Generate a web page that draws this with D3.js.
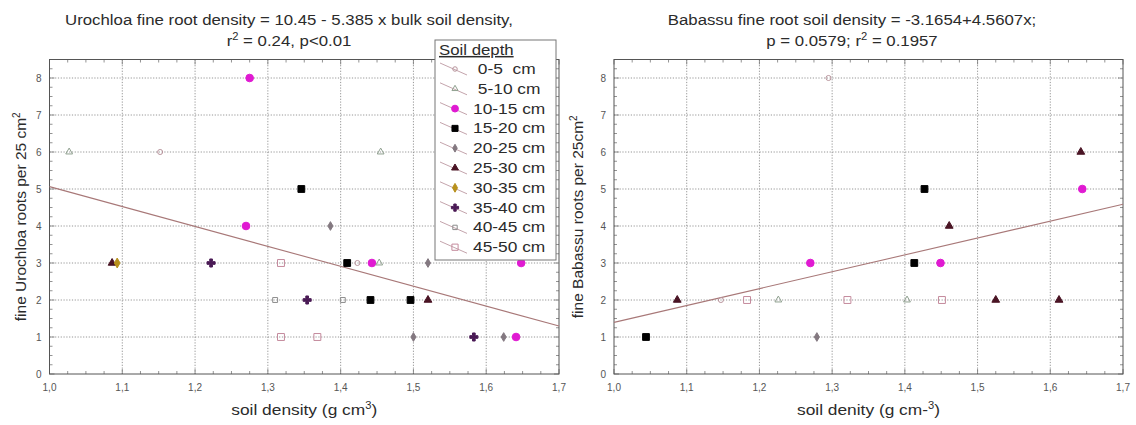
<!DOCTYPE html>
<html>
<head>
<meta charset="utf-8">
<script src="https://cdn.jsdelivr.net/npm/d3@7"></script>
<style>
body { margin: 0; background: #fff; }
text { font-family: Arial, "Liberation Sans", sans-serif; fill: #2b2b2b; }
</style>
</head>
<body>
<svg width="1136" height="425"></svg>
<script>
// legend categories
var depths = ["0-5  cm", "5-10 cm", "10-15 cm", "15-20 cm", "20-25 cm",
              "25-30 cm", "30-35 cm", "35-40 cm", "40-45 cm", "45-50 cm"];

var xTicks = [1.0, 1.1, 1.2, 1.3, 1.4, 1.5, 1.6, 1.7];
var yTicks = [0, 1, 2, 3, 4, 5, 6, 7, 8];

// Urochloa panel (index into depths)
var uroX     = [1.027, 1.152, 1.275, 1.27, 1.346, 1.386, 1.455,
                1.086, 1.093, 1.222, 1.318, 1.409, 1.423, 1.443, 1.453, 1.52, 1.648,
                1.31, 1.354, 1.403, 1.441, 1.496, 1.52,
                1.318, 1.368, 1.5, 1.583, 1.624, 1.641];
var uroY     = [6, 6, 8, 4, 5, 4, 6,
                3, 3, 3, 3, 3, 3, 3, 3, 3, 3,
                2, 2, 2, 2, 2, 2,
                1, 1, 1, 1, 1, 1];
var uroDepth = [1, 0, 2, 2, 3, 4, 1,
                5, 6, 7, 9, 3, 0, 2, 1, 4, 2,
                8, 7, 8, 3, 3, 5,
                9, 9, 4, 7, 4, 2];
var uroFit = [10.45, -5.385];

// Babassu panel
var babX     = [1.295, 1.642, 1.427, 1.644, 1.461,
                1.27, 1.413, 1.449,
                1.087, 1.147, 1.183, 1.226, 1.321, 1.403, 1.451, 1.525, 1.612,
                1.044, 1.279];
var babY     = [8, 6, 5, 5, 4,
                3, 3, 3,
                2, 2, 2, 2, 2, 2, 2, 2, 2,
                1, 1];
var babDepth = [0, 5, 3, 2, 5,
                2, 3, 2,
                5, 0, 9, 1, 9, 1, 9, 5, 5,
                3, 4];
var babFit = [-3.1654, 4.5607];

// marker look for each depth
var marks = [
  {type: d3.symbolCircle,   size: 20, fill: "none",    stroke: "#b8949c"},
  {type: d3.symbolTriangle, size: 20, fill: "none",    stroke: "#8fa08f"},
  {type: d3.symbolCircle,   size: 46, fill: "#e01ad2", stroke: "#e01ad2"},
  {type: d3.symbolSquare,   size: 46, fill: "#000",    stroke: "#000"},
  {type: d3.symbolDiamond,  size: 22, fill: "#837880", stroke: "#837880"},
  {type: d3.symbolTriangle, size: 26, fill: "#4a1424", stroke: "#4a1424"},
  {type: d3.symbolDiamond,  size: 28, fill: "#b8901c", stroke: "#b8901c"},
  {type: d3.symbolCross,    size: 36, fill: "#4a1a55", stroke: "#4a1a55"},
  {type: d3.symbolSquare,   size: 24, fill: "none",    stroke: "#8c8c8c"},
  {type: d3.symbolSquare,   size: 48, fill: "none",    stroke: "#c48a9c"}
];

var fmt = function(d) { return d3.format(".1f")(d).replace(".", ","); };
var svg = d3.select("svg");

// the original picture is a bit wider than tall, so stretch horizontal text
function wideText(parent, x, y, size, anchor) {
  return parent.append("text")
    .attr("transform", "translate(" + x + "," + y + ") scale(1.12,1)")
    .attr("text-anchor", anchor).attr("font-size", size);
}

function drawPanel(p) {
  var x = d3.scaleLinear().domain([1.0, 1.7]).range([p.left, p.right]);
  var y = d3.scaleLinear().domain([0, 8.5]).range([374, 59.5]);
  var g = svg.append("g");

  // dotted grid
  g.selectAll(".vg").data(xTicks.slice(1, -1)).enter().append("line")
    .attr("x1", function(d) { return x(d); }).attr("x2", function(d) { return x(d); })
    .attr("y1", y(8.5)).attr("y2", y(0))
    .attr("stroke", "#8a8a8a").attr("stroke-width", 0.9).attr("stroke-dasharray", "1.2,1.6");
  g.selectAll(".hg").data(yTicks.slice(1)).enter().append("line")
    .attr("x1", x(1.0)).attr("x2", x(1.7))
    .attr("y1", function(d) { return y(d); }).attr("y2", function(d) { return y(d); })
    .attr("stroke", "#8a8a8a").attr("stroke-width", 0.9).attr("stroke-dasharray", "1.2,1.6");

  // minor ticks on all sides
  var mx = d3.range(1.0, 1.7001, 0.025), my = d3.range(0, 8.51, 0.25);
  mx.forEach(function(v) {
    var len = Math.abs(v * 10 - Math.round(v * 10)) < 1e-6 ? 5 : 3;
    g.append("line").attr("x1", x(v)).attr("x2", x(v)).attr("y1", y(0)).attr("y2", y(0) - len)
      .attr("stroke", "#777").attr("stroke-width", 0.8);
    g.append("line").attr("x1", x(v)).attr("x2", x(v)).attr("y1", y(8.5)).attr("y2", y(8.5) + len)
      .attr("stroke", "#777").attr("stroke-width", 0.8);
  });
  my.forEach(function(v) {
    var len = Math.abs(v - Math.round(v)) < 1e-6 ? 5 : 3;
    g.append("line").attr("x1", x(1.0)).attr("x2", x(1.0) + len).attr("y1", y(v)).attr("y2", y(v))
      .attr("stroke", "#777").attr("stroke-width", 0.8);
    g.append("line").attr("x1", x(1.7)).attr("x2", x(1.7) - len).attr("y1", y(v)).attr("y2", y(v))
      .attr("stroke", "#777").attr("stroke-width", 0.8);
  });

  // frame
  g.append("rect").attr("x", x(1.0)).attr("y", y(8.5))
    .attr("width", x(1.7) - x(1.0)).attr("height", y(0) - y(8.5))
    .attr("fill", "none").attr("stroke", "#555").attr("stroke-width", 1);

  // tick labels
  g.selectAll(".xl").data(xTicks).enter().append("text")
    .attr("x", function(d) { return x(d); }).attr("y", 391)
    .attr("text-anchor", "middle").attr("font-size", 10).style("fill", "#555")
    .text(fmt);
  g.selectAll(".yl").data(yTicks).enter().append("text")
    .attr("x", x(1.0) - 8).attr("y", function(d) { return y(d) + 3.5; })
    .attr("text-anchor", "end").attr("font-size", 10).style("fill", "#555")
    .text(function(d) { return d; });

  // fit line
  g.append("line")
    .attr("x1", x(1.0)).attr("y1", y(p.fit[0] + p.fit[1] * 1.0))
    .attr("x2", x(1.7)).attr("y2", y(p.fit[0] + p.fit[1] * 1.7))
    .attr("stroke", "#a87878").attr("stroke-width", 1.1);

  // points
  p.xs.forEach(function(v, i) {
    var m = marks[p.ds[i]];
    g.append("path")
      .attr("d", d3.symbol().type(m.type).size(m.size)())
      .attr("transform", "translate(" + x(v) + "," + y(p.ys[i]) + ")")
      .attr("fill", m.fill).attr("stroke", m.stroke).attr("stroke-width", 1);
  });

  // titles
  wideText(g, p.tx, 25, 15, "middle").text(p.t1);
  p.t2(wideText(g, p.tx, 46, 15, "middle"));

  // axis titles
  var xt = wideText(g, (x(1.0) + x(1.7)) / 2, 415, 15.5, "middle");
  xt.append("tspan").text(p.xlab);
  xt.append("tspan").attr("font-size", 10).attr("dy", -6).text("3");
  xt.append("tspan").attr("dy", 6).text(")");

  var yt = g.append("text")
    .attr("transform", "translate(" + p.ylx + "," + y(4.25) + ") rotate(-90)")
    .attr("text-anchor", "middle").attr("font-size", 15.5);
  yt.append("tspan").text(p.ylab);
  yt.append("tspan").attr("font-size", 10).attr("dy", -6).text("2");

  return {x: x, y: y};
}

drawPanel({
  left: 49.5, right: 559, tx: 289, ylx: 26,
  xs: uroX, ys: uroY, ds: uroDepth, fit: uroFit,
  t1: "Urochloa fine root density = 10.45 - 5.385 x bulk soil density,",
  t2: function(t) {
    t.append("tspan").text("r");
    t.append("tspan").attr("font-size", 10).attr("dy", -6).text("2");
    t.append("tspan").attr("dy", 6).text(" = 0.24, p<0.01");
  },
  xlab: "soil density (g cm",
  ylab: "fine Urochloa roots per 25 cm"
});

drawPanel({
  left: 614, right: 1123, tx: 852, ylx: 583,
  xs: babX, ys: babY, ds: babDepth, fit: babFit,
  t1: "Babassu fine root soil density = -3.1654+4.5607x;",
  t2: function(t) {
    t.append("tspan").text("p = 0.0579; r");
    t.append("tspan").attr("font-size", 10).attr("dy", -6).text("2");
    t.append("tspan").attr("dy", 6).text(" = 0.1957");
  },
  xlab: "soil denity (g cm-",
  ylab: "fine Babassu roots per 25cm"
});

// legend (left panel)
var lg = svg.append("g");
lg.append("rect").attr("x", 435).attr("y", 40).attr("width", 121).attr("height", 220)
  .attr("fill", "#fff").attr("stroke", "#777").attr("stroke-width", 1);
wideText(lg, 439, 55, 15, "start")
  .attr("text-decoration", "underline").text("Soil depth");
depths.forEach(function(d, i) {
  var cy = 69 + i * 19.8;
  lg.append("line").attr("x1", 440).attr("y1", cy - 6).attr("x2", 467).attr("y2", cy + 6)
    .attr("stroke", "#c4a4ac").attr("stroke-width", 1);
  var m = marks[i];
  lg.append("path").attr("d", d3.symbol().type(m.type).size(m.size * 0.8)())
    .attr("transform", "translate(455," + cy + ")")
    .attr("fill", m.fill).attr("stroke", m.stroke);
  wideText(lg, 473, cy + 5, 15.5, "start")
    .style("white-space", "pre").text(i < 2 ? " " + d : d);
});
</script>
</body>
</html>
